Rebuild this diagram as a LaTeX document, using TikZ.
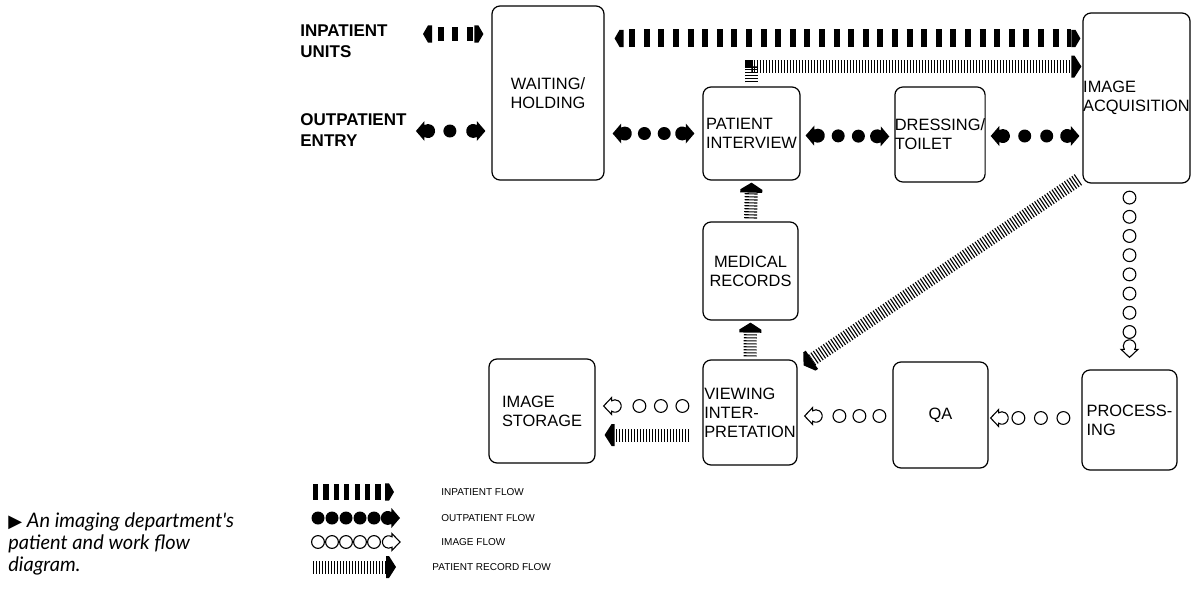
\documentclass[tikz,border=0pt]{standalone}
\usepackage{fontspec}
\setmainfont{Liberation Sans}
\newfontfamily\capfont{Lato}
\newfontfamily\symfont{DejaVu Sans}
\usetikzlibrary{calc, decorations.markings}

% heads point along +x with the tip at the origin
\newcommand{\inhead}{\fill (0,0) -- (-2.5pt,4.3pt) -- (-4.5pt,4.3pt) -- (-4.5pt,-4.3pt) -- (-2.5pt,-4.3pt) -- cycle;}
\newcommand{\outhead}{\fill (0,0) -- (-4.3pt,5pt) -- (-4.3pt,3pt) arc[start angle=59, end angle=301, radius=3.5pt] -- (-4.3pt,-5pt) -- cycle;}
\newcommand{\imghead}{\draw[line width=0.55pt, fill=white] (0,0) -- (-4pt,4.2pt) -- (-4pt,2.6pt) arc[start angle=57, end angle=303, radius=3.1pt] -- (-4pt,-4.2pt) -- cycle;}
\newcommand{\rechead}{\fill (0,0) -- (-3.5pt,5.5pt) -- (-5pt,5.5pt) -- (-5pt,-5.5pt) -- (-3.5pt,-5.5pt) -- cycle;}
\newcommand{\outdot}{\fill (0,0) circle (3.25pt);}
\newcommand{\imgdot}{\draw[line width=0.55pt] (0,0) circle (3.2pt);}

\tikzset{
    box/.style={draw, line width=0.6pt, rounded corners=4pt, align=left,
                inner xsep=0pt, inner ysep=2pt, font=\fontsize{8.2}{9.5}\selectfont},
    place/.style={anchor=north west, inner sep=0pt, align=left,
                  font=\bfseries\fontsize{8.5}{10.5}\selectfont},
    key/.style={anchor=west, inner sep=0pt, font=\fontsize{5}{6}\selectfont},
    marks/.style={postaction={decorate}},
    tipend/.style={decoration={markings, mark=at position 1 with {#1}}},
    tipboth/.style={decoration={markings,
                    mark=at position 0 with {\begin{scope}[rotate=180]#1\end{scope}},
                    mark=at position 1 with {#1}}},
    inflow/.style={draw, line width=8pt, dash pattern=on 3pt off 4.3pt, dash phase=4.5pt,
                   shorten <=4.5pt, shorten >=4.5pt, tipboth=\inhead, marks},
    inkey/.style={draw, line width=8pt, dash pattern=on 2.6pt off 2.6pt,
                  shorten >=4.5pt, tipend=\inhead, marks},
    % marks must come in order along the path: start head, dots, end head
    outflow/.style n args={3}{decoration={markings,
                   mark=at position 0 with {\begin{scope}[rotate=180]\outhead\end{scope}},
                   mark=between positions #1 and #2 step #3 with {\outdot},
                   mark=at position 1 with {\outhead}}, marks},
    outkey/.style={decoration={markings,
                   mark=between positions 3.5pt and 33pt step 7pt with {\outdot}},
                   tipend=\outhead, marks},
    imgflow/.style n args={3}{decoration={markings,
                   mark=between positions #1 and #2 step #3 with {\imgdot}},
                   tipend=\imghead, marks},
    recflow/.style={draw, line width=6.5pt, dash pattern=on 0.55pt off 0.95pt,
                    shorten >=5pt, tipend=\rechead, marks},
}

\begin{document}
\begin{tikzpicture}[x=0.5pt, y=-0.5pt]
\useasboundingbox (0,0) rectangle (1195,595);

\node[place] (units) at (300,24) {INPATIENT\\UNITS};
\node[place] (entry) at (300,113) {OUTPATIENT\\ENTRY};

\node[box, align=center, minimum width=56pt, minimum height=87pt] (wait) at (548,93) {WAITING/\\HOLDING};
\node[box, minimum width=48.5pt, minimum height=46.5pt] (interview) at (751.5,133.5) {PATIENT\\INTERVIEW};
\node[box, minimum width=45pt, minimum height=47.5pt] (dress) at (940,134.5) {DRESSING/\\TOILET};
\node[box, minimum width=53.5pt, minimum height=85pt] (acq) at (1136.5,98) {IMAGE\\ACQUISITION};
\node[box, align=center, minimum width=47.5pt, minimum height=49pt] (records) at (750.5,271) {MEDICAL\\RECORDS};
\node[box, minimum width=47pt, minimum height=52.5pt] (viewing) at (750,412.5) {VIEWING\\INTER-\\PRETATION};
\node[box, minimum width=53pt, minimum height=52pt] (storage) at (542,411) {IMAGE\\STORAGE};
\node[box, align=center, minimum width=47.5pt, minimum height=53pt] (qa) at (940.5,415) {QA};
\node[box, minimum width=47.5pt, minimum height=50pt] (proc) at (1129.5,420) {PROCESS-\\ING};

% inpatient
\draw[inflow, line width=7pt] ($(units.north east)+(35,10)$) -- ($(units.north east -| wait.west)+(-8,10)$);
\draw[inflow, line width=9pt] ($(wait.north east)+(10,33)$) -- ($(wait.north east -| acq.west)+(-2,33)$);
% outpatient
\path[outflow={17pt}{17pt}{10pt}] ($(entry.north east)+(9,18)$) -- ($(entry.north east -| wait.west)+(-6,18)$);
\path[outflow={15.9pt}{26.5pt}{9.9pt}] ($(wait.east |- interview.west)+(8,0)$) -- ($(interview.west)+(-8,0)$);
\path[outflow={16.3pt}{27pt}{10.1pt}] ($(interview.east)+(5,2)$) -- ($(dress.west)+(-5,2)$);
\path[outflow={17pt}{29pt}{11pt}] ($(dress.east)+(5,1.5)$) -- ($(dress.east -| acq.west)+(-3,1.5)$);
% patient records
\draw[recflow, shorten <=2pt] (interview.north) |- ($(acq.west)+(-1,-31.5)$);
\draw[recflow] ($(records.north)+(0,-3)$) -- ($(interview.south)+(0,2)$);
\draw[recflow] ($(viewing.north)+(0,-3)$) -- ($(records.south)+(0,2)$);
\draw[recflow] ($(acq.south west)+(-4,-4)$) -- ($(viewing.north east)+(6,6)$);
\draw[recflow] ($(viewing.west)+(-13,22.5)$) -- ($(storage.east)+(9,24)$);
% images
\path[imgflow={4pt}{72pt}{9.6pt}] ($(proc.north |- acq.south)+(0,6)$) -- ($(proc.north)+(0,-12)$);
\path[imgflow={6pt}{30pt}{11.25pt}] ($(proc.west)+(-6,-2)$) -- ($(qa.east)+(2,3)$);
\path[imgflow={4pt}{25pt}{10pt}] ($(qa.west)+(-5,1)$) -- ($(viewing.east)+(7,3.5)$);
\path[imgflow={7pt}{30pt}{10.75pt}] ($(viewing.west)+(-6,-6.5)$) -- ($(storage.east)+(8,-5)$);

% key
\node[key] (lgin) at (441,492) {INPATIENT FLOW};
\node[key] (lgout) at (441,518) {OUTPATIENT FLOW};
\node[key] (lgimg) at (441,542) {IMAGE FLOW};
\node[key] (lgrec) at (432,567) {PATIENT RECORD FLOW};
\draw[inkey] ($(lgin.west)+(-128,0)$) -- ($(lgin.west)+(-47,0)$);
\path[outkey] ($(lgout.west)+(-130,0)$) -- ($(lgout.west)+(-41,0)$);
\path[imgflow={3.5pt}{33pt}{7pt}] ($(lgimg.west)+(-130,0)$) -- ($(lgimg.west)+(-41,0)$);
\draw[recflow] ($(lgrec.west)+(-119,0)$) -- ($(lgrec.west)+(-36,0)$);

\node[anchor=north west, inner sep=0pt, align=left,
      font=\capfont\itshape\fontsize{10}{11}\selectfont] (caption) at (8,512)
      {{\symfont\upshape\fontsize{9}{9}\selectfont ▶}\ An imaging department's\\patient and work flow\\diagram.};
\end{tikzpicture}
\end{document}
